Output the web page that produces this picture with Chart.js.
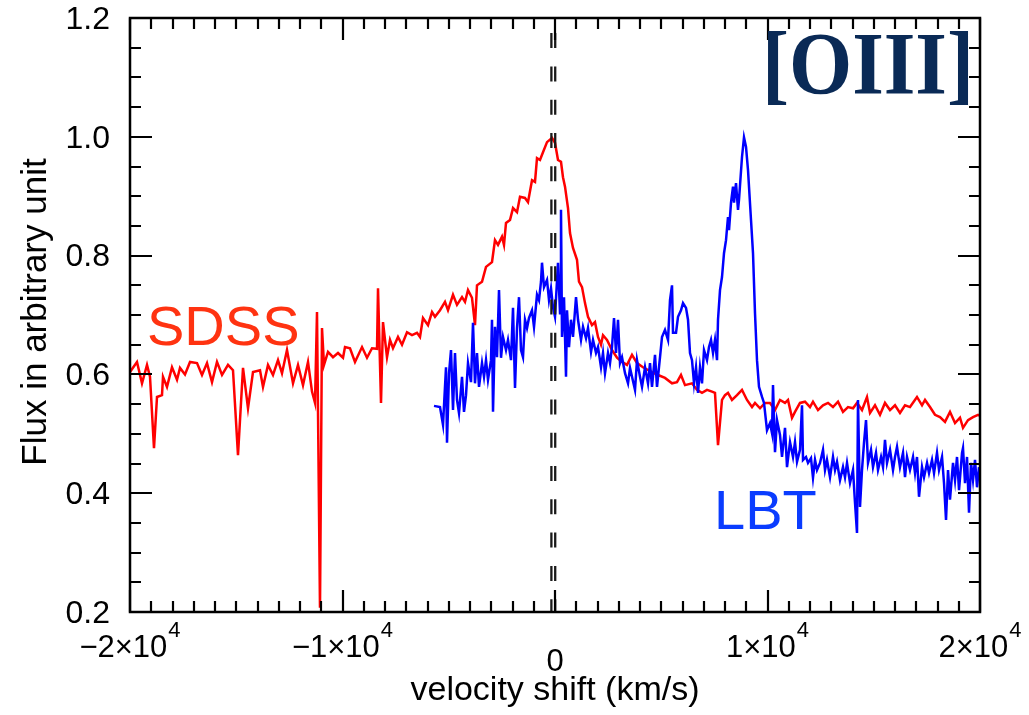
<!DOCTYPE html>
<html>
<head>
<meta charset="utf-8">
<script src="https://cdn.jsdelivr.net/npm/chart.js@4.4.1/dist/chart.umd.min.js"></script>
<style>
html,body{margin:0;padding:0;background:#fff;}
#wrap{width:1029px;height:715px;}
</style>
</head>
<body>
<div id="wrap"><canvas id="c" width="1029" height="715"></canvas></div>
<script>
// ---------- data ----------
const sdssV = [-20000,-19671,-19435,-19200,-19059,-18871,-18729,-18494,-18447,-18259,-18024,-17788,-17647,-17412,-17176,-16847,-16612,-16376,-16141,-15906,-15670,-15388,-15153,-14918,-14682,-14447,-14212,-13882,-13741,-13506,-13271,-13035,-12847,-12612,-12329,-12094,-11859,-11623,-11435,-11294,-11200,-11059,-10965,-10871,-10682,-10447,-10212,-9976,-9882,-9647,-9412,-9082,-8847,-8612,-8376,-8329,-8188,-8094,-7906,-7765,-7624,-7388,-7200,-6965,-6729,-6494,-6353,-6212,-5976,-5788,-5647,-5412,-5177,-5035,-4800,-4612,-4376,-4235,-4094,-3906,-3765,-3671,-3435,-3247,-2965,-2824,-2682,-2494,-2400,-2306,-2118,-1976,-1788,-1647,-1412,-1271,-1082,-941,-847,-706,-565,-376,-141,0,141,282,376,471,612,706,847,1035,1129,1271,1412,1553,1741,1882,2024,2165,2259,2447,2682,2918,3153,3388,3624,3859,4141,4565,4847,5176,5506,5741,5929,6118,6447,6682,6918,7153,7388,7529,7671,7859,8000,8141,8329,8565,8800,9035,9271,9412,9647,9882,10118,10353,10588,10824,10965,11153,11294,11529,11765,12000,12141,12376,12612,12847,13082,13318,13553,13788,14024,14212,14447,14682,14824,15059,15294,15529,15765,16000,16235,16471,16706,17035,17271,17412,17647,17882,18118,18353,18588,18824,19059,19200,19435,19671,19906,20000];
const sdssF = [0.604,0.621,0.585,0.616,0.596,0.476,0.562,0.565,0.596,0.579,0.612,0.591,0.611,0.600,0.621,0.619,0.599,0.619,0.587,0.621,0.599,0.616,0.607,0.464,0.611,0.543,0.604,0.607,0.579,0.616,0.599,0.624,0.602,0.641,0.585,0.616,0.582,0.621,0.571,0.552,0.705,0.207,0.678,0.616,0.638,0.629,0.636,0.628,0.646,0.644,0.621,0.646,0.628,0.644,0.643,0.745,0.552,0.688,0.629,0.658,0.644,0.663,0.650,0.671,0.666,0.670,0.663,0.695,0.683,0.705,0.697,0.708,0.722,0.708,0.734,0.717,0.730,0.722,0.742,0.729,0.683,0.750,0.756,0.781,0.789,0.826,0.818,0.832,0.818,0.855,0.860,0.880,0.873,0.899,0.897,0.890,0.927,0.924,0.964,0.961,0.974,0.991,0.998,0.990,0.961,0.958,0.932,0.916,0.880,0.838,0.813,0.793,0.756,0.747,0.720,0.697,0.683,0.688,0.663,0.650,0.666,0.658,0.641,0.628,0.621,0.616,0.633,0.619,0.612,0.604,0.599,0.594,0.585,0.587,0.599,0.582,0.585,0.574,0.569,0.574,0.571,0.569,0.481,0.557,0.565,0.569,0.557,0.565,0.574,0.557,0.545,0.552,0.543,0.552,0.552,0.540,0.557,0.552,0.557,0.527,0.537,0.552,0.554,0.545,0.554,0.540,0.548,0.552,0.545,0.554,0.537,0.545,0.543,0.552,0.540,0.562,0.535,0.548,0.532,0.552,0.540,0.548,0.535,0.548,0.545,0.562,0.548,0.557,0.545,0.532,0.528,0.520,0.537,0.518,0.527,0.510,0.523,0.528,0.532,0.530];

const lbtV = [-5694,-5412,-5270,-5129,-5082,-4988,-4894,-4800,-4706,-4612,-4518,-4376,-4282,-4188,-4094,-3953,-3859,-3765,-3671,-3576,-3435,-3341,-3247,-3153,-3012,-2965,-2917,-2824,-2729,-2635,-2541,-2447,-2306,-2212,-2070,-1976,-1882,-1788,-1694,-1600,-1506,-1412,-1317,-1223,-1082,-988,-847,-753,-659,-612,-517,-376,-282,-188,-94,0,141,236,282,330,424,518,565,659,753,847,989,1083,1224,1318,1459,1553,1695,1789,1930,2024,2165,2259,2353,2494,2589,2682,2777,2871,2965,3059,3153,3295,3436,3530,3624,3765,3859,4000,4095,4236,4377,4471,4565,4706,4800,4942,5036,5176,5318,5412,5506,5553,5695,5789,5929,6024,6165,6259,6353,6447,6542,6636,6730,6824,6918,7012,7153,7247,7342,7436,7529,7624,7671,7765,7859,7953,8048,8141,8189,8283,8377,8424,8518,8612,8659,8800,8894,8989,9083,9224,9318,9412,9506,9600,9742,9836,9977,10118,10212,10259,10353,10447,10588,10683,10824,10918,11059,11200,11294,11389,11529,11624,11671,11812,11906,12047,12141,12236,12330,12471,12612,12706,12800,12942,13082,13177,13271,13412,13553,13647,13742,13883,14024,14118,14212,14259,14353,14447,14542,14636,14730,14871,14965,15106,15200,15342,15436,15529,15624,15765,15906,16000,16095,16235,16377,16471,16565,16706,16848,16942,17035,17130,17271,17365,17507,17601,17742,17836,17977,18071,18213,18307,18401,18495,18588,18730,18824,18918,19013,19154,19200,19295,19389,19483,19577,19671,19765,19860,19954];
const lbtF = [0.547,0.545,0.515,0.612,0.485,0.602,0.641,0.540,0.636,0.557,0.535,0.596,0.537,0.565,0.619,0.587,0.687,0.585,0.636,0.579,0.619,0.596,0.624,0.591,0.624,0.692,0.537,0.680,0.629,0.742,0.628,0.663,0.641,0.658,0.624,0.712,0.577,0.678,0.730,0.641,0.629,0.692,0.678,0.695,0.708,0.680,0.734,0.725,0.756,0.788,0.747,0.759,0.725,0.745,0.713,0.697,0.788,0.703,0.877,0.663,0.730,0.596,0.708,0.646,0.692,0.663,0.730,0.692,0.658,0.680,0.661,0.678,0.638,0.658,0.636,0.646,0.612,0.636,0.602,0.636,0.619,0.646,0.695,0.636,0.692,0.619,0.629,0.602,0.585,0.611,0.596,0.574,0.624,0.596,0.579,0.612,0.585,0.619,0.579,0.633,0.579,0.629,0.663,0.675,0.658,0.725,0.750,0.670,0.670,0.697,0.708,0.720,0.712,0.692,0.636,0.624,0.585,0.612,0.569,0.612,0.585,0.641,0.624,0.646,0.658,0.636,0.658,0.624,0.692,0.742,0.764,0.804,0.826,0.865,0.843,0.889,0.916,0.889,0.922,0.877,0.894,0.966,0.999,0.983,0.944,0.860,0.804,0.703,0.624,0.579,0.562,0.552,0.506,0.518,0.501,0.582,0.469,0.523,0.498,0.461,0.510,0.444,0.486,0.461,0.486,0.453,0.473,0.548,0.456,0.461,0.451,0.459,0.426,0.456,0.439,0.451,0.473,0.439,0.456,0.427,0.461,0.439,0.453,0.422,0.444,0.427,0.451,0.417,0.439,0.384,0.333,0.557,0.377,0.439,0.485,0.523,0.451,0.473,0.444,0.468,0.439,0.461,0.444,0.490,0.451,0.473,0.439,0.461,0.478,0.444,0.468,0.427,0.461,0.439,0.461,0.434,0.461,0.394,0.444,0.427,0.451,0.434,0.456,0.434,0.468,0.439,0.461,0.417,0.355,0.439,0.389,0.451,0.422,0.461,0.405,0.468,0.476,0.417,0.461,0.367,0.451,0.422,0.456,0.410,0.444];

const xTickValues = [-20000,-10000,0,10000,20000];
const xTickMantissa = ['\u22122\u00d710','\u22121\u00d710','0','1\u00d710','2\u00d710'];
const xTickExponent = ['4','4','','4','4'];
const yTickLabels = ['0.2','0.4','0.6','0.8','1.0','1.2'];
const zeroLines = [-170, 10];   // velocity positions of the dashed reference lines

const seriesNames = ['SDSS','LBT'];
const xTitle = 'velocity shift (km/s)';
const yTitle = 'Flux in arbitrary unit';
const lineTag = '[OIII]';

function pairs(xs, ys){ return xs.map((v,i)=>({x:v, y:ys[i]})); }

const FONT = '"Liberation Sans", Arial, Helvetica, sans-serif';

function noPad(s){ s.paddingTop = 0; s.paddingBottom = 0; s.paddingLeft = 0; s.paddingRight = 0; }

const decor = {
  id:'decor',
  afterDatasetsDraw(chart){
    const {ctx, chartArea:a, scales:{x}} = chart;
    ctx.save();
    ctx.strokeStyle = '#1a1a1a';
    ctx.lineWidth = 2.3;
    ctx.setLineDash([15, 18.3]);
    ctx.lineDashOffset = 18.2;
    zeroLines.forEach(v=>{
      const px = x.getPixelForValue(v);
      ctx.beginPath(); ctx.moveTo(px, a.top); ctx.lineTo(px, a.bottom); ctx.stroke();
    });
    ctx.setLineDash([]);
    ctx.restore();
  },
  afterDraw(chart){
    const {ctx, chartArea:a, scales:{x, y}} = chart;
    ctx.save();
    ctx.strokeStyle = '#000';
    ctx.lineWidth = 2.5;
    ctx.strokeRect(a.left, a.top, a.right-a.left, a.bottom-a.top);
    ctx.lineWidth = 2.2;
    ctx.beginPath();
    for (let v = x.min; v <= x.max + 1e-6; v += 1000){
      const px = Math.round(x.getPixelForValue(v));
      const major = Math.abs(v % 10000) < 1e-6;
      const L = major ? 22 : 11;
      ctx.moveTo(px, a.bottom); ctx.lineTo(px, a.bottom - L);
      ctx.moveTo(px, a.top); ctx.lineTo(px, a.top + L);
    }
    for (let k = 0; k <= 20; k++){
      const v = y.min + k*0.05;
      const py = Math.round(y.getPixelForValue(v));
      const major = (k % 4) === 0;
      const L = major ? 22 : 11;
      ctx.moveTo(a.left, py); ctx.lineTo(a.left + L, py);
      ctx.moveTo(a.right, py); ctx.lineTo(a.right - L, py);
    }
    ctx.stroke();

    // x tick labels with raised exponent
    ctx.fillStyle = '#000';
    ctx.textBaseline = 'alphabetic';
    ctx.textAlign = 'left';
    xTickValues.forEach((v,i)=>{
      const px = x.getPixelForValue(v);
      const m = xTickMantissa[i], e = xTickExponent[i];
      ctx.font = '31px ' + FONT;
      const wm = ctx.measureText(m).width;
      ctx.font = '22px ' + FONT;
      const we = e ? ctx.measureText(e).width + 1 : 0;
      const x0 = px - (wm + we)/2;
      const base = a.bottom + (e ? 45 : 59);
      ctx.font = '31px ' + FONT;
      ctx.fillText(m, x0, base);
      if (e){ ctx.font = '22px ' + FONT; ctx.fillText(e, x0 + wm + 1, base - 20); }
    });

    // axis titles
    ctx.font = '34px ' + FONT;
    ctx.textAlign = 'center';
    ctx.fillText(xTitle, (a.left + a.right)/2, 700);
    ctx.save();
    ctx.font = '35px ' + FONT;
    ctx.translate(46, 312);
    ctx.rotate(-Math.PI/2);
    ctx.fillText(yTitle, 0, 0);
    ctx.restore();

    // annotations
    ctx.textAlign = 'left';
    ctx.font = '56px ' + FONT;
    ctx.fillStyle = '#ff3311';
    ctx.fillText(seriesNames[0], 147, 345);
    ctx.fillStyle = '#0a3cff';
    ctx.fillText(seriesNames[1], 714, 529);
    ctx.font = 'bold 88px "Liberation Serif", "Times New Roman", serif';
    ctx.fillStyle = '#0a2a56';
    ctx.fillText(lineTag, 762, 93, 212);
    ctx.restore();
  }
};

new Chart(document.getElementById('c'), {
  type:'scatter',
  data:{
    datasets:[
      {label:seriesNames[1], data:pairs(lbtV, lbtF), showLine:true, borderColor:'#0000ff', backgroundColor:'#0000ff', borderWidth:2.5, pointRadius:0, tension:0},
      {label:seriesNames[0], data:pairs(sdssV, sdssF), showLine:true, borderColor:'#ff0000', backgroundColor:'#ff0000', borderWidth:2.5, pointRadius:0, tension:0}
    ]
  },
  options:{
    responsive:false,
    animation:false,
    devicePixelRatio:1,
    layout:{padding:{top:18, right:49, left:0, bottom:0}},
    plugins:{legend:{display:false}, tooltip:{enabled:false}},
    scales:{
      x:{
        type:'linear', min:-20000, max:20000,
        afterFit(s){ s.height = 103; noPad(s); },
        afterBuildTicks(s){ s.ticks = xTickValues.map(v=>({value:v})); },
        grid:{display:false, drawTicks:false},
        border:{display:false},
        ticks:{display:false}
      },
      y:{
        type:'linear', min:0.2, max:1.2,
        afterFit(s){ s.width = 130; noPad(s); },
        afterBuildTicks(s){ s.ticks = yTickLabels.map(t=>({value:parseFloat(t)})); },
        grid:{display:false, drawTicks:false},
        border:{display:false},
        ticks:{color:'#000', font:{family:FONT, size:32}, padding:20, autoSkip:false, labelOffset:2,
               callback:(v,i)=>yTickLabels[i]}
      }
    }
  },
  plugins:[decor]
});
</script>
</body>
</html>
